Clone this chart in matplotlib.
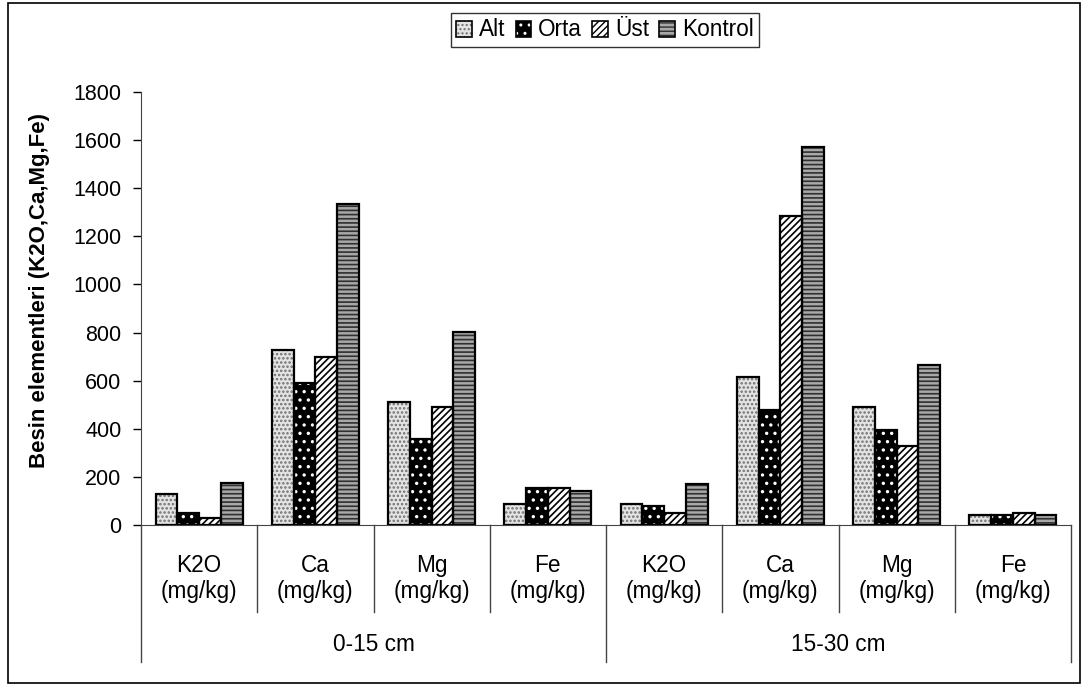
import matplotlib
matplotlib.use("Agg")
import matplotlib.pyplot as plt
from matplotlib.patches import Rectangle, Patch
from matplotlib.lines import Line2D
from matplotlib.legend_handler import HandlerTuple
import numpy as np

plt.rcParams['font.family'] = ['Liberation Sans', 'DejaVu Sans']

# ---- data ----
depths = ["0-15 cm", "15-30 cm"]
elements = ["K2O\n(mg/kg)", "Ca\n(mg/kg)", "Mg\n(mg/kg)", "Fe\n(mg/kg)"]
series_names = ["Alt", "Orta", "Üst", "Kontrol"]
alt = [127, 727, 512, 86, 86, 615, 492, 43]
orta = [51, 591, 359, 155, 79, 478, 393, 43]
ust = [30, 698, 492, 155, 49, 1284, 330, 50]
kontrol = [176, 1334, 802, 141, 169, 1572, 665, 43]
y_ticks = [0, 200, 400, 600, 800, 1000, 1200, 1400, 1600, 1800]
y_label = "Besin elementleri (K2O,Ca,Mg,Fe)"

series = [alt, orta, ust, kontrol]
styles = [
    dict(face="#e4e4e4", hatch="....", hcolor="#707070"),
    dict(face="#000000", hatch="..", hcolor="#ffffff"),
    dict(face="#ffffff", hatch="/////", hcolor="#000000"),
    dict(face="#a8a8a8", hatch="----", hcolor="#303030"),
]

fig = plt.figure(figsize=(10.82, 6.86), dpi=100)
W, H = 1082, 686
ax = fig.add_axes([141 / W, (H - 525) / H, 930 / W, 433 / H])

ncat = len(depths) * len(elements)
x = np.arange(ncat) + 0.5
bw = 0.187
handles = []
for k, (vals, st) in enumerate(zip(series, styles)):
    pos = x + (k - 1.5) * bw
    with plt.rc_context({'hatch.linewidth': 1.2}):
        ax.bar(pos, vals, bw, color=st["face"], hatch=st["hatch"],
               edgecolor=st["hcolor"], linewidth=0, zorder=2)
        h1 = Patch(facecolor=st["face"], hatch=st["hatch"], edgecolor=st["hcolor"], linewidth=0)
    ax.bar(pos, vals, bw, fill=False, edgecolor="black", linewidth=1.6, zorder=3)
    h2 = Patch(fill=False, edgecolor="black", linewidth=1.2)
    handles.append((h1, h2))

ax.set_xlim(0, ncat)
ax.set_ylim(0, 1800)
ax.set_yticks(y_ticks)
ax.tick_params(axis='y', direction='out', length=6, width=1, labelsize=15.5, pad=8)
ax.set_xticks([])
for s in ["top", "right"]:
    ax.spines[s].set_visible(False)
ax.spines["left"].set_color("#444444")
ax.spines["bottom"].set_color("#444444")
ax.set_ylabel(y_label, fontsize=16, fontweight="bold")
ax.yaxis.set_label_coords((50 - 141) / 930, (525 - 290) / 433)

# multi-level x axis
tr = ax.get_xaxis_transform()
for b in range(ncat + 1):
    long = (b % len(elements) == 0)
    ax.add_line(Line2D([b, b], [0, -0.316 if long else -0.201], transform=tr,
                       color="#444444", linewidth=1, clip_on=False))
for i, lab in enumerate(elements * len(depths)):
    ax.text(x[i], -0.124, lab, transform=tr, ha="center", va="center",
            fontsize=16.3, linespacing=1.2)
for g, d in enumerate(depths):
    ax.text(g * len(elements) + len(elements) / 2, -0.277, d, transform=tr,
            ha="center", va="center", fontsize=16.3)

leg = fig.legend(handles, series_names, handler_map={tuple: HandlerTuple(ndivide=1)},
                 loc="center", bbox_to_anchor=(605 / W, 1 - 30 / H), ncol=4,
                 fontsize=16.3, frameon=True, fancybox=False, handlelength=0.7,
                 handleheight=0.7, handletextpad=0.3, columnspacing=0.45,
                 borderpad=0.25, borderaxespad=0)
leg.get_frame().set_edgecolor("black")
leg.get_frame().set_linewidth(1.0)

fig.patches.append(Rectangle((8 / W, 3 / H), 1072 / W, 680 / H, transform=fig.transFigure,
                             fill=False, edgecolor="black", linewidth=1.2))

fig.savefig("out.png", dpi=100)
